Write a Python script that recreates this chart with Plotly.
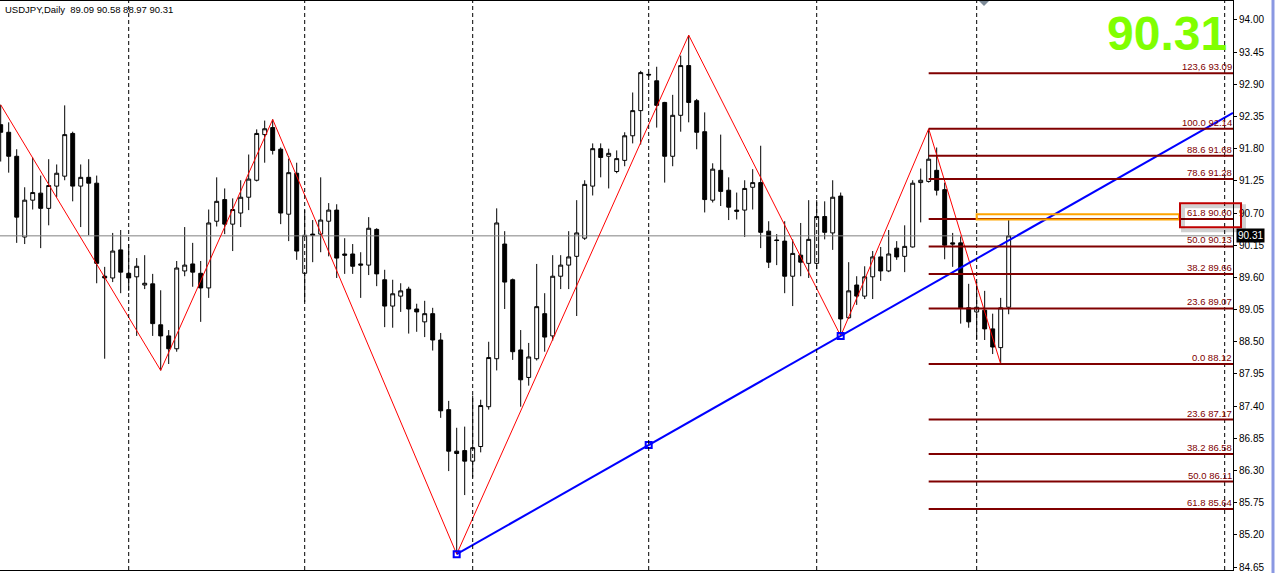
import plotly.graph_objects as go

# ---------------- data ----------------
TITLE_TEXT = "USDJPY,Daily  89.09 90.58 88.97 90.31"
LAST_PRICE = 90.31

bar_index = list(range(127))

opens = [92.21, 92.08, 91.67, 90.29, 90.92, 91.04, 90.78, 91.16, 91.33, 92.06,
         91.16, 91.31, 91.21, 89.62, 89.59, 90.07, 89.67, 89.61, 89.47, 89.49,
         88.79, 88.60, 88.38, 89.71, 89.83, 89.67, 89.42, 90.56, 90.93, 90.51,
         90.70, 90.97, 91.26, 92.04, 92.16, 91.79, 90.68, 91.38, 89.67, 90.34,
         90.34, 90.56, 90.75, 90.00, 90.00, 89.83, 89.81, 90.42, 89.56, 89.11,
         89.28, 89.40, 89.06, 88.84, 88.98, 88.53, 87.34, 86.63, 86.64, 86.46,
         86.71, 87.39, 88.21, 90.17, 89.56, 88.36, 87.89, 88.21, 88.98, 88.60,
         89.62, 89.81, 89.96, 90.27, 91.16, 91.80, 91.67, 91.41, 91.60, 92.02,
         92.45, 93.07, 92.96, 92.59, 91.67, 92.37, 93.22, 92.62, 92.09, 90.92,
         91.43, 91.09, 90.75, 90.75, 91.14, 91.22, 90.39, 90.24, 90.22, 89.62,
         89.98, 89.84, 89.84, 90.64, 90.36, 90.99, 88.91, 89.47, 89.28, 89.61,
         89.95, 89.71, 90.10, 89.96, 90.12, 91.22, 91.24, 91.43, 91.10, 90.19,
         90.19, 89.08, 89.01, 89.04, 88.72, 88.40, 89.09]

highs = [92.55, 92.25, 91.79, 91.14, 91.65, 91.34, 91.62, 91.53, 92.54, 92.09,
         91.53, 91.62, 91.34, 89.78, 90.36, 90.41, 90.17, 89.93, 89.98, 89.66,
         89.38, 88.70, 89.88, 90.46, 90.19, 89.88, 90.76, 91.31, 91.12, 90.95,
         91.26, 91.70, 92.13, 92.28, 92.30, 91.82, 91.63, 91.56, 90.75, 90.58,
         91.31, 90.87, 90.85, 90.27, 90.17, 90.03, 90.63, 90.44, 89.73, 89.56,
         89.50, 89.44, 89.15, 89.20, 89.08, 88.65, 87.49, 87.03, 87.05, 87.58,
         87.51, 88.50, 90.78, 90.39, 89.58, 88.70, 88.48, 89.83, 89.33, 89.98,
         89.98, 90.39, 90.92, 91.26, 91.89, 91.89, 91.80, 91.77, 92.08, 92.76,
         93.13, 93.10, 93.20, 92.60, 92.72, 93.39, 93.74, 92.65, 92.42, 91.55,
         92.04, 91.31, 91.05, 91.26, 91.45, 91.85, 90.56, 90.34, 90.56, 90.25,
         90.53, 90.92, 90.92, 90.90, 91.26, 91.05, 89.86, 89.62, 89.79, 90.05,
         90.12, 90.41, 90.22, 90.49, 91.26, 91.46, 92.14, 91.82, 91.22, 90.36,
         90.30, 89.49, 89.52, 89.37, 88.98, 89.25, 90.58]

lows = [91.58, 91.39, 90.19, 90.17, 90.76, 90.10, 90.49, 90.97, 91.26, 90.90,
        90.46, 90.32, 89.50, 88.21, 89.52, 89.33, 89.37, 88.60, 89.40, 88.60,
        88.01, 88.12, 88.33, 89.62, 89.44, 88.84, 89.25, 90.47, 90.34, 90.05,
        90.46, 90.75, 91.24, 91.56, 91.70, 90.51, 90.22, 89.90, 89.18, 89.86,
        90.03, 89.96, 89.59, 89.66, 89.66, 89.25, 89.64, 89.45, 88.75, 88.74,
        89.01, 88.64, 88.67, 88.58, 88.35, 87.20, 86.29, 84.87, 85.88, 86.18,
        86.61, 87.34, 88.01, 89.06, 88.19, 87.39, 87.75, 88.18, 88.33, 88.52,
        89.40, 89.40, 88.94, 90.24, 91.00, 91.31, 91.12, 91.38, 91.50, 91.89,
        91.87, 93.03, 92.16, 91.22, 91.50, 92.09, 92.25, 91.79, 90.71, 90.88,
        90.82, 90.58, 90.59, 90.29, 90.76, 90.10, 89.76, 89.81, 89.33, 89.11,
        89.62, 89.59, 89.74, 90.25, 90.07, 88.60, 88.89, 89.13, 89.23, 89.23,
        89.54, 89.69, 89.90, 89.69, 90.11, 90.54, 91.22, 91.00, 89.91, 89.78,
        88.81, 88.74, 88.53, 88.53, 88.29, 88.12, 88.97]

closes = [92.08, 91.67, 90.63, 90.92, 91.05, 90.78, 91.17, 91.38, 92.04, 91.16,
          91.31, 91.21, 89.84, 89.59, 90.05, 89.69, 89.59, 89.79, 89.50, 88.81,
          88.60, 88.38, 89.76, 89.81, 89.69, 89.42, 90.53, 90.90, 90.51, 90.76,
          90.97, 91.28, 92.06, 92.14, 91.77, 90.70, 91.39, 90.05, 90.32, 90.32,
          90.58, 90.75, 89.93, 89.98, 89.79, 89.81, 90.44, 89.66, 89.11, 89.32,
          89.37, 89.06, 89.01, 88.98, 88.53, 87.32, 86.63, 86.59, 86.46, 86.69,
          87.41, 88.23, 90.53, 89.52, 88.33, 87.85, 88.24, 89.10, 88.58, 89.62,
          89.81, 89.95, 90.36, 91.19, 91.80, 91.65, 91.72, 91.63, 92.02, 92.45,
          93.10, 93.06, 92.54, 91.67, 92.37, 93.22, 92.59, 92.08, 90.93, 91.45,
          91.07, 90.80, 90.73, 91.12, 91.22, 90.37, 89.86, 90.23, 89.62, 90.01,
          89.86, 90.25, 90.64, 90.37, 90.97, 88.89, 89.37, 89.28, 89.61, 89.95,
          89.71, 90.00, 89.95, 90.13, 91.21, 91.26, 91.62, 91.09, 90.15, 90.17,
          89.08, 88.84, 89.09, 88.72, 88.41, 89.08, 90.31]

# ZigZag swing points (bar index, price)
zigzag_bars = [0, 20, 34, 57, 86, 105, 116, 125]
zigzag_prices = [92.55, 88.01, 92.30, 84.87, 93.74, 88.60, 92.14, 88.12]

# Trend line anchors (bar index, price)
trend_bars = [57, 105]
trend_prices = [84.87, 88.60]

# Fibonacci levels: labels and prices
fib_labels = ["123,6", "100.0", "88.6", "78.6", "61.8", "50.0", "38.2",
              "23.6", "0.0", "23.6", "38.2", "50.0", "61.8"]
fib_prices = [93.09, 92.14, 91.68, 91.28, 90.60, 90.13, 89.66,
              89.07, 88.12, 87.17, 86.58, 86.11, 85.64]
fib_start_bar = 116

# Month separator positions (bar index)
separator_bars = [16, 38, 59, 81, 102, 122, 153]

# Highlight zone at the 61.8 level (bar range, price range)
zone_bars = [122, 147.3]
zone_prices = [90.59, 90.68]

# Price axis ticks
tick_values = [84.65, 85.20, 85.75, 86.30, 86.85, 87.40, 87.95, 88.50, 89.05,
               89.60, 90.15, 90.70, 91.25, 91.80, 92.35, 92.90, 93.45, 94.00]
tick_labels = ["%.2f" % v for v in tick_values]

# ---------------- layout geometry ----------------
W, H = 1277, 573
ML, MR, MT, MB = 0, 44, 1, 1
PW = W - ML - MR
PH = H - MT - MB
X_RANGE = [-0.0875, 154.04]
Y_RANGE = [84.5994, 94.3236]


def px2x(px):
    return (px - ML) / PW


def py2y(py):
    return (H - MB - py) / PH


FONT = "Liberation Sans, Arial, sans-serif"
FIB_COLOR = "#800000"

fig = go.Figure()

fig.add_trace(go.Candlestick(
    x=bar_index, open=opens, high=highs, low=lows, close=closes,
    increasing=dict(line=dict(color="black", width=1), fillcolor="white"),
    decreasing=dict(line=dict(color="black", width=1), fillcolor="black"),
    whiskerwidth=0, hoverinfo="skip", showlegend=False,
))

# bid line
fig.add_trace(go.Scatter(
    x=X_RANGE, y=[LAST_PRICE, LAST_PRICE], mode="lines",
    line=dict(color="#808080", width=1), hoverinfo="skip", showlegend=False,
))

# zigzag
fig.add_trace(go.Scatter(
    x=zigzag_bars, y=zigzag_prices, mode="lines",
    line=dict(color="#FF0000", width=1), hoverinfo="skip", showlegend=False,
))

# trend line (ray extended to the right edge)
slope = (trend_prices[1] - trend_prices[0]) / (trend_bars[1] - trend_bars[0])
x_end = X_RANGE[1]
y_end = trend_prices[0] + slope * (x_end - trend_bars[0])
fig.add_trace(go.Scatter(
    x=[trend_bars[0], x_end], y=[trend_prices[0], y_end], mode="lines",
    line=dict(color="#0000FF", width=2), hoverinfo="skip", showlegend=False,
))
mid_bar = (trend_bars[0] + trend_bars[1]) / 2
mid_price = (trend_prices[0] + trend_prices[1]) / 2
fig.add_trace(go.Scatter(
    x=[trend_bars[0], mid_bar, trend_bars[1]],
    y=[trend_prices[0], mid_price, trend_prices[1]], mode="markers",
    marker=dict(symbol="square-open", size=6, color="#0000FF",
                line=dict(color="#0000FF", width=2)),
    hoverinfo="skip", showlegend=False,
))

shapes = []
# month separators
for b in separator_bars:
    shapes.append(dict(type="line", xref="x", yref="paper", x0=b, x1=b, y0=0, y1=1,
                       line=dict(color="black", width=1, dash="4px,3px"), layer="above"))
# fib lines
for p in fib_prices:
    shapes.append(dict(type="line", xref="x", yref="y", x0=fib_start_bar, x1=X_RANGE[1],
                       y0=p, y1=p, line=dict(color=FIB_COLOR, width=2), layer="above"))
# orange zone
shapes.append(dict(type="rect", xref="x", yref="y", x0=zone_bars[0], x1=zone_bars[1],
                   y0=zone_prices[0], y1=zone_prices[1],
                   line=dict(color="#FFA500", width=2), layer="above"))
# red box around 61.8 label (with soft shadow)
shapes.append(dict(type="rect", xref="paper", yref="paper",
                   x0=px2x(1183), x1=px2x(1244), y0=py2y(231), y1=py2y(207),
                   line=dict(color="rgba(0,0,0,0.18)", width=4)))
shapes.append(dict(type="rect", xref="paper", yref="paper",
                   x0=px2x(1180), x1=px2x(1241), y0=py2y(228), y1=py2y(204),
                   line=dict(color="#C00000", width=2)))
# right edge strip
shapes.append(dict(type="line", xref="paper", yref="paper",
                   x0=px2x(1273), x1=px2x(1273), y0=py2y(H + 2), y1=py2y(-2),
                   line=dict(color="#8A98E2", width=3)))
# chart shift marker
shapes.append(dict(type="path", xref="paper", yref="paper",
                   path="M %f %f L %f %f L %f %f Z" % (px2x(979), py2y(1), px2x(989), py2y(1),
                                                       px2x(984), py2y(6)),
                   fillcolor="#7D8A97", line=dict(width=0)))

annotations = []
annotations.append(dict(xref="paper", yref="paper", x=px2x(3), y=py2y(10),
                        xanchor="left", yanchor="middle", text=TITLE_TEXT, showarrow=False,
                        font=dict(family=FONT, size=9.5, color="black")))
annotations.append(dict(xref="paper", yref="paper", x=px2x(1229), y=py2y(34),
                        xanchor="right", yanchor="middle", text="%.2f" % LAST_PRICE,
                        showarrow=False,
                        font=dict(family=FONT, size=48, color="#80FF00", weight="bold")))
for lab, p in zip(fib_labels, fib_prices):
    annotations.append(dict(xref="paper", yref="y", x=px2x(1233), y=p,
                            xanchor="right", yanchor="bottom", text="%s %.2f" % (lab, p),
                            showarrow=False, borderpad=0, yshift=0,
                            font=dict(family=FONT, size=9.5, color=FIB_COLOR)))
annotations.append(dict(xref="paper", yref="y", x=px2x(1236), y=LAST_PRICE,
                        xanchor="left", yanchor="middle", text="%.2f" % LAST_PRICE,
                        showarrow=False, bgcolor="black", borderpad=1,
                        font=dict(family=FONT, size=10, color="white")))

fig.update_layout(
    width=W, height=H, autosize=False,
    margin=dict(l=ML, r=MR, t=MT, b=MB, pad=0),
    paper_bgcolor="white", plot_bgcolor="white",
    showlegend=False, hovermode=False,
    shapes=shapes, annotations=annotations,
    xaxis=dict(range=X_RANGE, showticklabels=False, ticks="", showgrid=False,
               zeroline=False, showline=True, mirror=True, linecolor="black",
               linewidth=1, rangeslider=dict(visible=False), fixedrange=True),
    yaxis=dict(range=Y_RANGE, side="right", tickvals=tick_values, ticktext=tick_labels,
               ticks="outside", ticklen=3, tickcolor="black", showgrid=False,
               zeroline=False, showline=True, linecolor="black", linewidth=1,
               ticklabeloverflow="allow",
               tickfont=dict(family=FONT, size=10, color="black"), fixedrange=True),
)

fig.write_html(
    "out.html",
    config={"displayModeBar": False},
    post_script="document.body.style.margin='0';document.body.style.padding='0';",
)
